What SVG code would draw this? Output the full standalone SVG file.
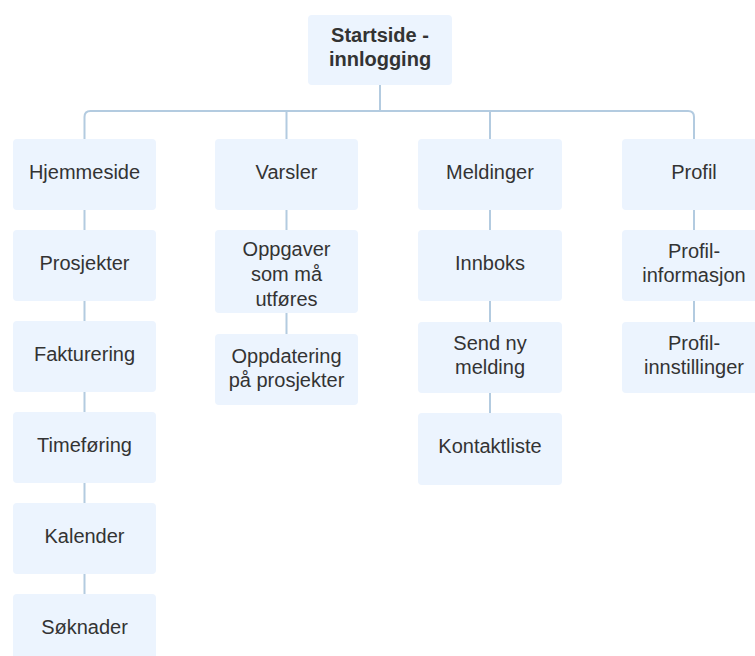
<svg xmlns="http://www.w3.org/2000/svg" width="755" height="656" viewBox="0 0 755 656">
  <style>
    .box { fill: #ecf4fe; }
    .lbl { font-family: "Liberation Sans", Arial, sans-serif; font-size: 20px; fill: #333333; text-anchor: middle; }
    .bold { font-weight: bold; }
    .wire { fill: none; stroke: #b3cbe0; stroke-width: 2; }
  </style>
  <rect width="755" height="656" fill="#ffffff"/>

  <!-- connectors -->
  <g id="connectors" class="wire">
    <path d="M380,85 V111"/>
    <path d="M84.5,139 V117 Q84.5,111 90.5,111 H688 Q694,111 694,117 V139"/>
    <path d="M286.5,111 V139"/>
    <path d="M490,111 V139"/>
    <!-- column 1 -->
    <path d="M84.5,210 V230 M84.5,301 V321 M84.5,392 V412 M84.5,483 V503 M84.5,574 V594"/>
    <!-- column 2 -->
    <path d="M286.5,210 V230 M286.5,313 V334"/>
    <!-- column 3 -->
    <path d="M490,210 V230 M490,301 V322 M490,393 V413"/>
    <!-- column 4 -->
    <path d="M694,210 V230 M694,301 V322"/>
  </g>

  <g id="startside">
    <rect class="box" x="308" y="15" width="144" height="70" rx="4"/>
    <text class="lbl bold" x="380" y="42">Startside -</text>
    <text class="lbl bold" x="380" y="66">innlogging</text>
  </g>

  <!-- column 1 -->
  <g id="hjemmeside">
    <rect class="box" x="13" y="139" width="143" height="71" rx="4"/>
    <text class="lbl" x="84.5" y="179">Hjemmeside</text>
  </g>
  <g id="prosjekter">
    <rect class="box" x="13" y="230" width="143" height="71" rx="4"/>
    <text class="lbl" x="84.5" y="270">Prosjekter</text>
  </g>
  <g id="fakturering">
    <rect class="box" x="13" y="321" width="143" height="71" rx="4"/>
    <text class="lbl" x="84.5" y="361">Fakturering</text>
  </g>
  <g id="timeforing">
    <rect class="box" x="13" y="412" width="143" height="71" rx="4"/>
    <text class="lbl" x="84.5" y="452">Timeføring</text>
  </g>
  <g id="kalender">
    <rect class="box" x="13" y="503" width="143" height="71" rx="4"/>
    <text class="lbl" x="84.5" y="543">Kalender</text>
  </g>
  <g id="soknader">
    <rect class="box" x="13" y="594" width="143" height="71" rx="4"/>
    <text class="lbl" x="84.5" y="634">Søknader</text>
  </g>

  <!-- column 2 -->
  <g id="varsler">
    <rect class="box" x="215" y="139" width="143" height="71" rx="4"/>
    <text class="lbl" x="286.5" y="179">Varsler</text>
  </g>
  <g id="oppgaver">
    <rect class="box" x="215" y="230" width="143" height="83" rx="4"/>
    <text class="lbl" x="286.5" y="256">Oppgaver</text>
    <text class="lbl" x="286.5" y="281">som må</text>
    <text class="lbl" x="286.5" y="306">utføres</text>
  </g>
  <g id="oppdatering">
    <rect class="box" x="215" y="334" width="143" height="71" rx="4"/>
    <text class="lbl" x="286.5" y="363">Oppdatering</text>
    <text class="lbl" x="286.5" y="387">på prosjekter</text>
  </g>

  <!-- column 3 -->
  <g id="meldinger">
    <rect class="box" x="418" y="139" width="144" height="71" rx="4"/>
    <text class="lbl" x="490" y="179">Meldinger</text>
  </g>
  <g id="innboks">
    <rect class="box" x="418" y="230" width="144" height="71" rx="4"/>
    <text class="lbl" x="490" y="270">Innboks</text>
  </g>
  <g id="send-ny-melding">
    <rect class="box" x="418" y="322" width="144" height="71" rx="4"/>
    <text class="lbl" x="490" y="350">Send ny</text>
    <text class="lbl" x="490" y="374">melding</text>
  </g>
  <g id="kontaktliste">
    <rect class="box" x="418" y="413" width="144" height="72" rx="4"/>
    <text class="lbl" x="490" y="453">Kontaktliste</text>
  </g>

  <!-- column 4 -->
  <g id="profil">
    <rect class="box" x="622" y="139" width="144" height="71" rx="4"/>
    <text class="lbl" x="694" y="179">Profil</text>
  </g>
  <g id="profil-informasjon">
    <rect class="box" x="622" y="230" width="144" height="71" rx="4"/>
    <text class="lbl" x="694" y="258">Profil-</text>
    <text class="lbl" x="694" y="282">informasjon</text>
  </g>
  <g id="profil-innstillinger">
    <rect class="box" x="622" y="322" width="144" height="71" rx="4"/>
    <text class="lbl" x="694" y="350">Profil-</text>
    <text class="lbl" x="694" y="374">innstillinger</text>
  </g>
</svg>
